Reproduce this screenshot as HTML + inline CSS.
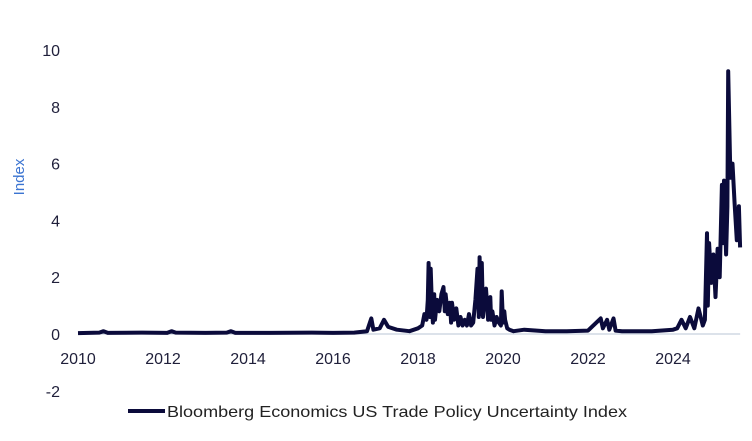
<!DOCTYPE html>
<html><head><meta charset="utf-8"><style>
html,body{margin:0;padding:0;background:#fff;}
svg{display:block;font-family:"Liberation Sans",sans-serif;}
</style></head><body>
<svg id="chart" width="752" height="441" viewBox="0 0 752 441" xmlns="http://www.w3.org/2000/svg">
<g id="yticks"></g>
<g id="xticks"></g>
<text transform="translate(24,177) rotate(-90)" text-anchor="middle" font-size="15" fill="#3b74d1">Index</text>
<line id="zero" stroke="#b8c4d4" stroke-width="1"/>
<path id="series" fill="none" stroke="#0b0b3b" stroke-width="4" stroke-linejoin="round"/>
<g>
<line x1="128" y1="411" x2="165" y2="411" stroke="#0b0b3b" stroke-width="4"/>
<text x="167" y="417" font-size="16" fill="#222" textLength="460" lengthAdjust="spacingAndGlyphs">Bloomberg Economics US Trade Policy Uncertainty Index</text>
</g>
</svg>
<script>
const yTicks=[10,8,6,4,2,0,-2];
const xTicks=[2010,2012,2014,2016,2018,2020,2022,2024];
const dates=[2010,2010.5,2010.6,2010.7,2011.5,2012.1,2012.2,2012.3,2013,2013.5,2013.6,2013.7,2014.5,2015.5,2016,2016.5,2016.8,2016.9,2016.95,2017.1,2017.2,2017.3,2017.5,2017.8,2018.0,2018.1,2018.15,2018.2,2018.23,2018.25,2018.28,2018.3,2018.33,2018.35,2018.38,2018.4,2018.45,2018.5,2018.55,2018.6,2018.63,2018.65,2018.7,2018.75,2018.78,2018.8,2018.85,2018.9,2018.95,2019.0,2019.05,2019.1,2019.15,2019.2,2019.25,2019.3,2019.35,2019.4,2019.43,2019.45,2019.48,2019.5,2019.53,2019.55,2019.6,2019.65,2019.7,2019.72,2019.75,2019.8,2019.85,2019.9,2019.95,2019.97,2020.0,2020.03,2020.05,2020.1,2020.15,2020.25,2020.5,2021,2021.5,2022,2022.3,2022.35,2022.45,2022.5,2022.6,2022.65,2022.8,2023,2023.5,2024,2024.1,2024.2,2024.3,2024.4,2024.5,2024.6,2024.7,2024.75,2024.8,2024.82,2024.85,2024.9,2024.95,2025.0,2025.05,2025.1,2025.15,2025.18,2025.2,2025.25,2025.28,2025.3,2025.35,2025.4,2025.45,2025.5,2025.55,2025.58];
const values=[0.03,0.05,0.1,0.04,0.05,0.04,0.1,0.05,0.04,0.05,0.1,0.04,0.04,0.05,0.04,0.05,0.1,0.55,0.15,0.2,0.5,0.25,0.15,0.1,0.2,0.3,0.7,0.5,1.2,2.5,0.6,2.3,0.9,0.4,1.4,0.5,1.2,0.8,1.4,1.65,0.8,1.4,0.7,1.1,0.4,1.1,0.5,0.9,0.3,0.6,0.3,0.5,0.3,0.7,0.3,0.4,1.2,2.3,0.6,2.7,0.7,2.5,0.6,1.0,1.6,0.5,1.3,0.5,0.8,0.3,0.6,0.4,0.3,1.5,0.4,0.8,0.5,0.2,0.15,0.1,0.15,0.1,0.1,0.12,0.55,0.2,0.5,0.15,0.55,0.12,0.1,0.1,0.1,0.15,0.2,0.5,0.2,0.6,0.2,0.9,0.3,0.5,3.55,1.0,3.2,1.8,2.8,1.3,3.0,2.0,5.25,3.2,5.4,2.8,4.5,9.25,5.5,6.0,4.6,3.3,4.5,3.05];
const X=d=>78+(d-2010)*42.5;
const Y=v=>334-v*28.4;
const NS="http://www.w3.org/2000/svg";
const yg=document.getElementById('yticks');
yTicks.forEach(t=>{const e=document.createElementNS(NS,'text');


e.setAttribute('x',60);e.setAttribute('y',Y(t)+6);e.setAttribute('text-anchor','end');e.setAttribute('font-size','16');e.setAttribute('fill','#1f1f3a');e.textContent=t;yg.appendChild(e);});
const xg=document.getElementById('xticks');
xTicks.forEach(t=>{const e=document.createElementNS(NS,'text');


e.setAttribute('x',X(t));e.setAttribute('y',364);e.setAttribute('text-anchor','middle');e.setAttribute('font-size','16');e.setAttribute('fill','#1f1f3a');e.textContent=t;xg.appendChild(e);});
const z=document.getElementById('zero');
z.setAttribute('x1',X(2010));z.setAttribute('x2',X(2025.58));z.setAttribute('y1',Y(0));z.setAttribute('y2',Y(0));
document.getElementById('series').setAttribute('d',dates.map((d,i)=>(i?'L':'M')+X(d).toFixed(1)+','+Y(values[i]).toFixed(1)).join(''));
</script>
</body></html>
